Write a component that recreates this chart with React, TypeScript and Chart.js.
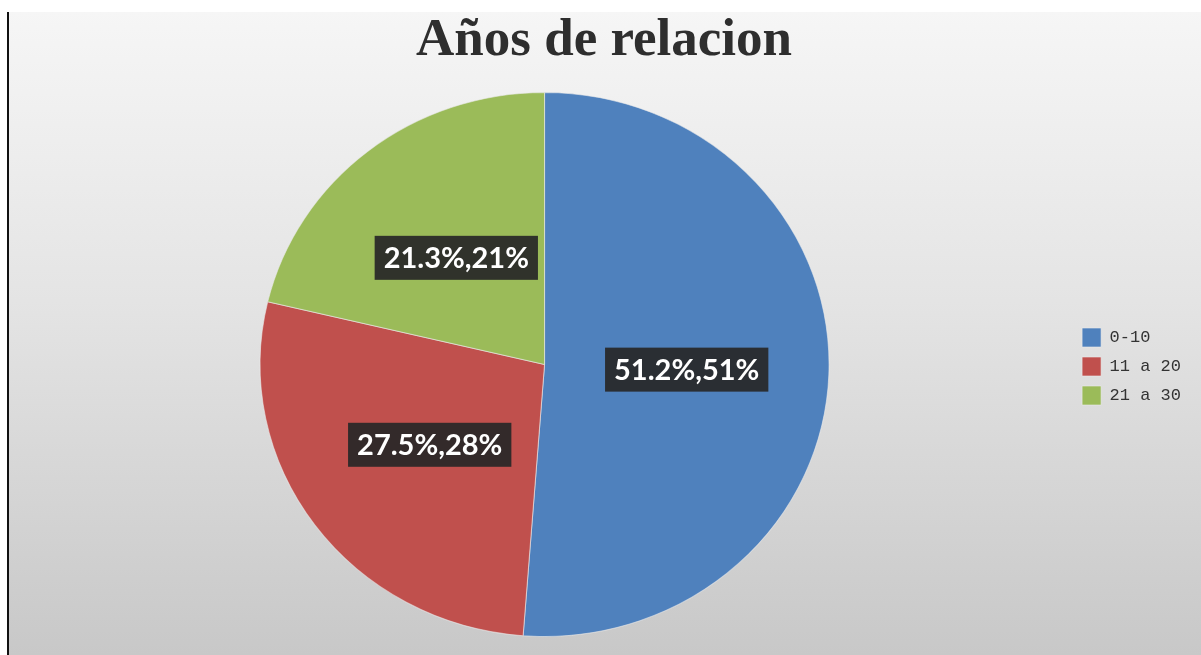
import React, { useEffect, useRef } from "react";
import { Chart, registerables } from "chart.js";

Chart.register(...registerables);

const titleText = "Años de relacion";
const categories = ["0-10", "11 a 20", "21 a 30"];
const values = [51.2, 27.5, 21.3];
const colors = ["#4f81bd", "#c0504d", "#9bbb59"];

const X_STRETCH = 1.046;

const stretchAndLabels = {
  id: "stretchAndLabels",
  beforeDatasetsDraw(chart: any) {
    const arc = chart.getDatasetMeta(0).data[0];
    const ctx = chart.ctx;
    ctx.save();
    if (arc) {
      ctx.translate(arc.x, arc.y);
      ctx.scale(X_STRETCH, 1);
      ctx.translate(-arc.x, -arc.y);
    }
  },
  afterDatasetsDraw(chart: any) {
    const ctx = chart.ctx;
    ctx.restore();
    const meta = chart.getDatasetMeta(0);
    const total = values.reduce((a, b) => a + b, 0);
    ctx.save();
    ctx.font = "bold 29px Lato";
    ctx.textAlign = "center";
    ctx.textBaseline = "middle";
    meta.data.forEach((arc: any, i: number) => {
      const p = arc.tooltipPosition();
      const cx = arc.x + (p.x - arc.x) * X_STRETCH;
      const cy = p.y;
      const text = `${values[i].toFixed(1)}%,${Math.round((values[i] / total) * 100)}%`;
      const w = ctx.measureText(text).width;
      const bw = w + 18;
      const bh = 44;
      ctx.fillStyle = "rgba(40,40,40,0.93)";
      ctx.fillRect(cx - bw / 2, cy - bh / 2, bw, bh);
      ctx.fillStyle = "#ffffff";
      ctx.fillText(text, cx, cy + 1);
    });
    ctx.restore();
  },
};

export default function App() {
  const canvasRef = useRef<HTMLCanvasElement | null>(null);

  useEffect(() => {
    if (!canvasRef.current) return;
    const chart = new Chart(canvasRef.current, {
      type: "pie",
      data: {
        labels: categories,
        datasets: [
          {
            data: values,
            backgroundColor: colors,
            borderColor: "rgba(235,235,235,0.6)",
            borderWidth: 1,
          },
        ],
      },
      options: {
        animation: false,
        responsive: true,
        maintainAspectRatio: false,
        rotation: 0,
        layout: { padding: { left: 8, right: 10, top: 0, bottom: 18 } },
        plugins: {
          title: {
            display: true,
            text: titleText,
            color: "#2e2e2e",
            font: { family: "'Liberation Serif', serif", size: 53, weight: "bold", lineHeight: 1.0 },
            padding: { top: 3, bottom: 24 },
          },
          legend: {
            position: "right",
            align: "center",
            title: {
              display: true,
              text: " ",
              font: { size: 1, lineHeight: 1 },
              padding: { top: 0, bottom: 83 },
            },
            labels: {
              boxWidth: 19,
              boxHeight: 19,
              padding: 10,
              color: "#333333",
              font: { family: "'Liberation Mono', monospace", size: 17 },
            },
          },
          tooltip: { enabled: false },
        },
      },
      plugins: [stretchAndLabels],
    });
    return () => chart.destroy();
  }, []);

  return (
    <div style={{ position: "fixed", left: 0, top: 0, width: 1201, height: 655, background: "#ffffff", overflow: "hidden" }}>
      <div style={{ position: "absolute", left: 7, top: 12, width: 2, height: 643, background: "#111111" }} />
      <div
        style={{
          position: "absolute",
          left: 9,
          top: 12,
          width: 1192,
          height: 643,
          background: "linear-gradient(to bottom, #f6f6f6 0%, #e4e4e4 45%, #c8c8c8 100%)",
        }}
      >
        <canvas ref={canvasRef} />
      </div>
    </div>
  );
}
